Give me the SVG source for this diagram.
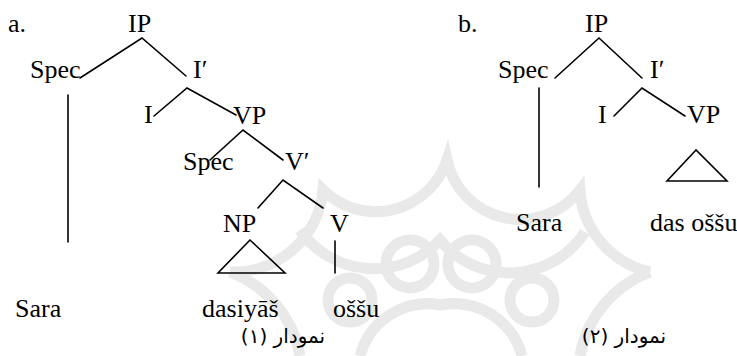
<svg xmlns="http://www.w3.org/2000/svg" width="737" height="356" viewBox="0 0 737 356">
  <style>
    .lbl { font-family: "Liberation Serif", Tinos, "Times New Roman", "DejaVu Serif", serif; font-size: 26px; fill: #000; }
    .cap { font-family: "DejaVu Sans", "Noto Sans", sans-serif; font-size: 20px; fill: #000; }
    .edge { stroke: #000; stroke-width: 1.6; fill: none; stroke-linecap: round; }
    .wm { stroke: #e9e9e9; stroke-width: 11; fill: none; }
  </style>
  <rect width="737" height="356" fill="#fff"/>

  <!-- faint background ornament: scalloped star with rings -->
  <g id="watermark">
    <path class="wm" d="M230 272 A90 90 0 0 0 323 190 A75 75 0 0 0 447 160 A75 75 0 0 0 580 190 A90 90 0 0 0 650 272"/>
    <path class="wm" d="M230 272 A110 110 0 0 1 300 356 M650 272 A110 110 0 0 0 580 356"/>
    <path class="wm" d="M300 230 A90 90 0 0 0 440 240 A90 90 0 0 0 585 232"/>
    <circle class="wm" cx="410" cy="264" r="24"/>
    <circle class="wm" cx="472" cy="264" r="24"/>
    <circle class="wm" cx="350" cy="300" r="22"/>
    <circle class="wm" cx="532" cy="300" r="22"/>
    <path class="wm" d="M360 356 A70 70 0 0 1 441 305 A70 70 0 0 1 522 356"/>
  </g>

  <!-- connectors -->
  <g id="connectors">
    <!-- tree a -->
    <path class="edge" d="M80 78 L142 38 L186 76"/>
    <path class="edge" d="M154 116 L187 88 L236 115"/>
    <path class="edge" d="M210 160 L243 130 L283 160"/>
    <path class="edge" d="M258 208 L283 180 L323 208"/>
    <line class="edge" x1="68" y1="95" x2="68" y2="242"/>
    <line class="edge" x1="335" y1="241" x2="335" y2="273"/>
    <polygon class="edge" points="250,240 218,273 285,273"/>
    <!-- tree b -->
    <path class="edge" d="M555 78 L599 38 L642 78"/>
    <path class="edge" d="M614 116 L642 88 L685 116"/>
    <line class="edge" x1="539" y1="88" x2="539" y2="187"/>
    <polygon class="edge" points="696,150 667,181 727,181"/>
  </g>

  <!-- tree a nodes -->
  <g id="a-mark"><text class="lbl" x="8" y="32">a.</text></g>
  <g id="a-IP"><text class="lbl" x="128" y="32">IP</text></g>
  <g id="a-Spec"><text class="lbl" x="30" y="78">Spec</text></g>
  <g id="a-Ibar"><text class="lbl" x="193" y="78">I′</text></g>
  <g id="a-I"><text class="lbl" x="144" y="123">I</text></g>
  <g id="a-VP"><text class="lbl" x="233" y="124">VP</text></g>
  <g id="a-VSpec"><text class="lbl" x="183" y="170">Spec</text></g>
  <g id="a-Vbar"><text class="lbl" x="285" y="170">V′</text></g>
  <g id="a-NP"><text class="lbl" x="223" y="232">NP</text></g>
  <g id="a-V"><text class="lbl" x="330" y="232">V</text></g>
  <g id="a-Sara"><text class="lbl" x="15" y="317">Sara</text></g>
  <g id="a-dasiyas"><text class="lbl" x="202" y="317">dasiyāš</text></g>
  <g id="a-ossu"><text class="lbl" x="333" y="317">oššu</text></g>
  <g id="a-caption"><text class="cap" x="283" y="343" text-anchor="middle" direction="rtl">نمودار (۱)</text></g>

  <!-- tree b nodes -->
  <g id="b-mark"><text class="lbl" x="458" y="32">b.</text></g>
  <g id="b-IP"><text class="lbl" x="585" y="32">IP</text></g>
  <g id="b-Spec"><text class="lbl" x="498" y="78">Spec</text></g>
  <g id="b-Ibar"><text class="lbl" x="650" y="78">I′</text></g>
  <g id="b-I"><text class="lbl" x="598" y="123">I</text></g>
  <g id="b-VP"><text class="lbl" x="687" y="123">VP</text></g>
  <g id="b-Sara"><text class="lbl" x="516" y="231">Sara</text></g>
  <g id="b-dasossu"><text class="lbl" x="650" y="231">das oššu</text></g>
  <g id="b-caption"><text class="cap" x="624" y="343" text-anchor="middle" direction="rtl">نمودار (۲)</text></g>
</svg>
